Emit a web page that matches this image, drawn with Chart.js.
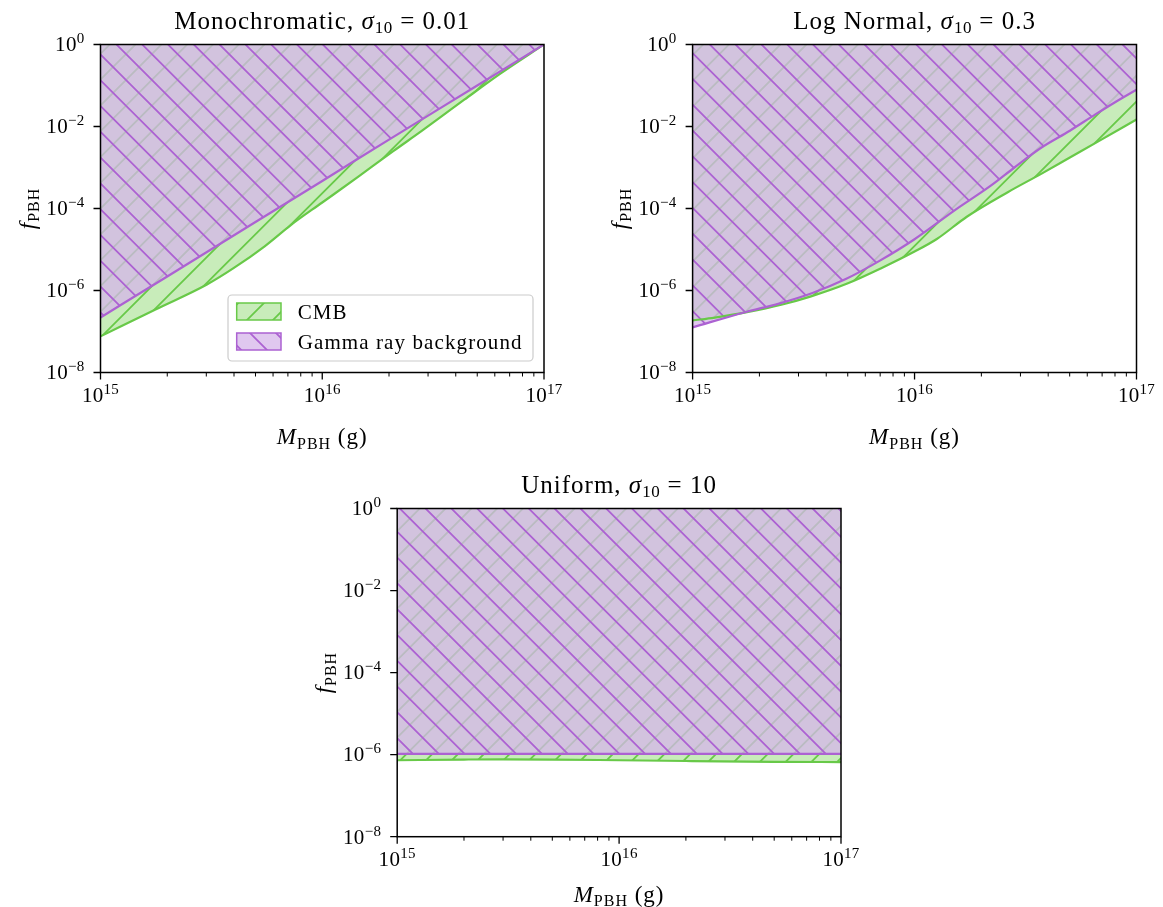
<!DOCTYPE html>
<html>
<head>
<meta charset="utf-8">
<title>PBH constraints</title>
<script src="https://cdn.jsdelivr.net/npm/chart.js@4.4.1/dist/chart.umd.min.js"></script>
<style>
  html, body { margin: 0; padding: 0; background: #fff; }
  body { width: 1163px; height: 907px; position: relative; overflow: hidden; }
  canvas { position: absolute; left: 0; top: 0; }
</style>
</head>
<body>
<canvas id="mono" width="1163" height="907"></canvas>
<canvas id="lognormal" width="1163" height="907"></canvas>
<canvas id="uniform" width="1163" height="907"></canvas>
<script>
// ---- axis ticks ----
const xMajorTicks = [1e15, 1e16, 1e17];
const xTickExponents = ['15', '16', '17'];
const xMinorTicks = [2e15, 3e15, 4e15, 5e15, 6e15, 7e15, 8e15, 9e15,
                     2e16, 3e16, 4e16, 5e16, 6e16, 7e16, 8e16, 9e16];
const yMajorTicks = [1e-8, 1e-6, 1e-4, 1e-2, 1];
const yTickExponents = ['\u22128', '\u22126', '\u22124', '\u22122', '0'];

// ---- Monochromatic, sigma10 = 0.01 ----
const monoCmbMass  = [1e15, 1.78e15, 3.02e15, 3.98e15, 5.5e15, 7.24e15, 1e16, 1.45e16, 2.09e16, 2.82e16, 4.37e16, 6.31e16, 1e17];
const monoCmbF     = [7.6e-8, 3.5e-7, 1.4e-6, 3.5e-6, 1.2e-5, 4.0e-5, 1.4e-4, 5.9e-4, 2.5e-3, 7.9e-3, 4.5e-2, 0.19, 1.0];
const monoGammaMass = [1e15, 2e15, 5e15, 1e16, 2e16, 5e16, 1e17];
const monoGammaF    = [2.2e-7, 2.2e-6, 4.7e-5, 4.7e-4, 4.8e-3, 0.1, 1.0];

// ---- Log normal, sigma10 = 0.3 ----
const lnCmbMass  = [1e15, 1.26e15, 1.78e15, 2.51e15, 3.39e15, 5.01e15, 7.08e15, 1e16, 1.26e16, 1.72e16, 2.63e16, 3.72e16, 5.01e16, 6.76e16, 1e17];
const lnCmbF     = [1.86e-7, 2.19e-7, 3.0e-7, 4.5e-7, 7.1e-7, 1.5e-6, 3.5e-6, 8.9e-6, 1.8e-5, 6.3e-5, 2.5e-4, 7.0e-4, 1.75e-3, 4.4e-3, 1.48e-2];
const lnGammaMass = [1e15, 1.74e15, 2.45e15, 3.47e15, 4.9e15, 6.92e15, 1e16, 1.51e16, 2.19e16, 2.82e16, 3.69e16, 5.01e16, 6.46e16, 7.94e16, 1e17];
const lnGammaF    = [1.26e-7, 3.0e-7, 4.8e-7, 8.7e-7, 1.9e-6, 5.2e-6, 1.78e-5, 8.9e-5, 3.5e-4, 1.0e-3, 2.95e-3, 7.9e-3, 1.9e-2, 3.8e-2, 7.9e-2];

// ---- Uniform, sigma10 = 10 ----
const uniCmbMass  = [1e15, 2e15, 3e15, 5e15, 1e16, 2e16, 5e16, 1e17];
const uniCmbF     = [7.3e-7, 7.6e-7, 7.7e-7, 7.6e-7, 7.3e-7, 7.0e-7, 6.7e-7, 6.6e-7];
const uniGammaMass = [1e15, 1e16, 1e17];
const uniGammaF    = [1.05e-6, 1.05e-6, 1.05e-6];

const FONT = '"Liberation Serif", "DejaVu Serif", serif';
const GREEN = 'rgb(104,201,72)';
const GREEN_FILL = 'rgb(200,236,186)';
const PURPLE = 'rgb(172,98,210)';
const PURPLE_FILL = 'rgba(213,182,233,0.75)';

// Diagonal hatch tile; 5 line periods per tile so the tiling is seamless.
function hatchPattern(fill, stroke, dir, phase) {
  const sp = 25.8, N = 129;
  const c = document.createElement('canvas');
  c.width = N; c.height = N;
  const g = c.getContext('2d');
  g.fillStyle = fill;
  g.fillRect(0, 0, N, N);
  g.strokeStyle = stroke;
  g.lineWidth = 1.8;
  g.beginPath();
  for (let k = -8; k <= 14; k++) {
    const c0 = phase + k * sp;
    if (dir === '/') {            // x + y = c0
      g.moveTo(c0 + 20, -20);
      g.lineTo(c0 - N - 20, N + 20);
    } else {                      // y - x = c0
      g.moveTo(-20, c0 - 20);
      g.lineTo(N + 20, N + 20 + c0);
    }
  }
  g.stroke();
  return g.createPattern(c, 'repeat');
}

const cmbPattern = hatchPattern(GREEN_FILL, GREEN, '/', 25.3);
const gammaPattern = hatchPattern(PURPLE_FILL, PURPLE, '\\', 5.5);

function pts(xs, ys) { return xs.map((x, i) => ({ x: x, y: ys[i] })); }

function setFont(ctx, r) {
  ctx.font = (r.italic ? 'italic ' : '') + r.size + 'px ' + FONT;
  ctx.letterSpacing = (r.ls || 0) + 'px';
}
function runsWidth(ctx, runs) {
  let w = 0;
  for (const r of runs) { setFont(ctx, r); w += ctx.measureText(r.t).width; }
  return w;
}
function drawRuns(ctx, runs, x, y, align) {
  const w = runsWidth(ctx, runs);
  let cx = align === 'center' ? x - w / 2 : align === 'right' ? x - w : x;
  ctx.textAlign = 'left';
  ctx.textBaseline = 'alphabetic';
  for (const r of runs) {
    setFont(ctx, r);
    ctx.fillText(r.t, cx, y + (r.dy || 0));
    cx += ctx.measureText(r.t).width;
  }
  ctx.letterSpacing = '0px';
}
function powRuns(exp) {
  return [{ t: '10', size: 21, ls: 0.3 }, { t: exp, size: 15, dy: -8, ls: 0.3 }];
}

const xLabelRuns = [{ t: 'M', size: 23, italic: true, ls: 1 }, { t: 'PBH', size: 16, dy: 4.5, ls: 1 }, { t: ' (g)', size: 23, ls: 1 }];
const yLabelRuns = [{ t: 'f', size: 23, italic: true, ls: 1 }, { t: 'PBH', size: 16, dy: 4.5, ls: 1 }];

function roundRect(ctx, x, y, w, h, r) {
  ctx.beginPath();
  ctx.moveTo(x + r, y);
  ctx.arcTo(x + w, y, x + w, y + h, r);
  ctx.arcTo(x + w, y + h, x, y + h, r);
  ctx.arcTo(x, y + h, x, y, r);
  ctx.arcTo(x, y, x + w, y, r);
  ctx.closePath();
}

function drawFrame(chart, cfg) {
  const ctx = chart.ctx, a = chart.chartArea;
  const xs = chart.scales.x, ys = chart.scales.y;
  ctx.save();
  ctx.strokeStyle = '#000';
  ctx.lineWidth = 1.5;
  ctx.strokeRect(a.left, a.top, a.right - a.left, a.bottom - a.top);

  ctx.lineWidth = 1.3;
  ctx.beginPath();
  xMajorTicks.forEach(v => { const p = xs.getPixelForValue(v); ctx.moveTo(p, a.bottom); ctx.lineTo(p, a.bottom + 7); });
  yMajorTicks.forEach(v => { const p = ys.getPixelForValue(v); ctx.moveTo(a.left, p); ctx.lineTo(a.left - 7, p); });
  ctx.stroke();
  ctx.lineWidth = 1;
  ctx.beginPath();
  xMinorTicks.forEach(v => { const p = xs.getPixelForValue(v); ctx.moveTo(p, a.bottom); ctx.lineTo(p, a.bottom + 4); });
  ctx.stroke();

  ctx.fillStyle = '#000';
  xMajorTicks.forEach((v, i) => drawRuns(ctx, powRuns(xTickExponents[i]), xs.getPixelForValue(v), a.bottom + 29, 'center'));
  yMajorTicks.forEach((v, i) => drawRuns(ctx, powRuns(yTickExponents[i]), a.left - 16, ys.getPixelForValue(v) + 6.8, 'right'));

  const cx = (a.left + a.right) / 2, cy = (a.top + a.bottom) / 2;
  drawRuns(ctx, cfg.title, cx, a.top - 16, 'center');
  drawRuns(ctx, xLabelRuns, cx, a.bottom + cfg.xLabelGap, 'center');
  ctx.save();
  ctx.translate(a.left - 66, cy);
  ctx.rotate(-Math.PI / 2);
  drawRuns(ctx, yLabelRuns, 0, 0, 'center');
  ctx.restore();

  if (cfg.legend) {
    const ds = chart.data.datasets;
    const entries = [ds[1], ds[0]];
    const bx = a.right - 316, by = a.bottom - 77.5, bw = 305, bh = 66;
    roundRect(ctx, bx, by, bw, bh, 4);
    ctx.fillStyle = 'rgba(255,255,255,0.8)';
    ctx.fill();
    ctx.strokeStyle = '#cccccc';
    ctx.lineWidth = 1.2;
    ctx.stroke();
    entries.forEach((d, i) => {
      const py = by + 8 + i * 30;
      ctx.fillStyle = d.backgroundColor;
      ctx.fillRect(bx + 8.7, py, 44.3, 17);
      ctx.strokeStyle = d.borderColor;
      ctx.lineWidth = 1.5;
      ctx.strokeRect(bx + 8.7, py, 44.3, 17);
      ctx.fillStyle = '#000';
      drawRuns(ctx, [{ t: d.label, size: 21, ls: 1.1 }], bx + 69.7, py + 16, 'left');
    });
  }
  ctx.restore();
}

function makeChart(id, pad, cmbMass, cmbF, gMass, gF, cfg) {
  return new Chart(document.getElementById(id), {
    type: 'line',
    data: {
      datasets: [
        { label: 'Gamma ray background', data: pts(gMass, gF), borderColor: PURPLE, borderWidth: 2.2,
          backgroundColor: gammaPattern, fill: 'end', pointRadius: 0, cubicInterpolationMode: 'monotone' },
        { label: 'CMB', data: pts(cmbMass, cmbF), borderColor: GREEN, borderWidth: 2.2,
          backgroundColor: cmbPattern, fill: 'end', pointRadius: 0, cubicInterpolationMode: 'monotone' }
      ]
    },
    options: {
      responsive: false,
      animation: false,
      events: [],
      layout: { padding: pad, autoPadding: false },
      scales: {
        x: { type: 'logarithmic', min: 1e15, max: 1e17, display: false },
        y: { type: 'logarithmic', min: 1e-8, max: 1, display: false }
      },
      plugins: {
        legend: { display: false },
        tooltip: { enabled: false },
        filler: { drawTime: 'beforeDatasetsDraw' }
      }
    },
    plugins: [{ id: 'frame', afterDraw(chart) { drawFrame(chart, cfg); } }]
  });
}

const sigmaTitle = (name, val) => [
  { t: name + ', ', size: 25, ls: 1 }, { t: '\u03C3', size: 25, italic: true, ls: 1 },
  { t: '10', size: 17, dy: 4.5, ls: 0.6 }, { t: ' = ' + val, size: 25, ls: 1 }
];

makeChart('mono', { left: 100.5, top: 44.5, right: 619, bottom: 534.5 },
  monoCmbMass, monoCmbF, monoGammaMass, monoGammaF,
  { title: sigmaTitle('Monochromatic', '0.01'), xLabelGap: 71.5, legend: true });
makeChart('lognormal', { left: 692.6, top: 44.5, right: 26.5, bottom: 534.5 },
  lnCmbMass, lnCmbF, lnGammaMass, lnGammaF,
  { title: sigmaTitle('Log Normal', '0.3'), xLabelGap: 71.5, legend: false });
makeChart('uniform', { left: 397.2, top: 508.5, right: 322, bottom: 70.3 },
  uniCmbMass, uniCmbF, uniGammaMass, uniGammaF,
  { title: sigmaTitle('Uniform', '10'), xLabelGap: 65, legend: false });
</script>
</body>
</html>
